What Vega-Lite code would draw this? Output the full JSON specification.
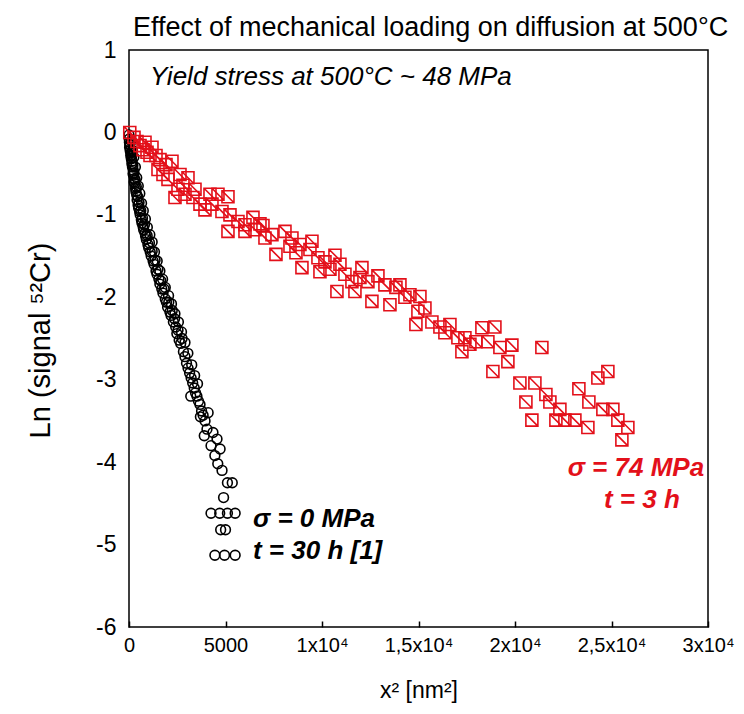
{
  "$schema": "https://vega.github.io/schema/vega-lite/v6.json",
  "width": 579,
  "height": 577,
  "autosize": {"type": "none"},
  "padding": {"left": 129, "top": 50, "right": 36, "bottom": 87},
  "background": "white",
  "config": {
    "view": {"stroke": "black", "strokeWidth": 1.5},
    "axis": {"grid": false, "domain": false}
  },
  "title": {
    "text": "Effect of mechanical loading on diffusion at 500°C",
    "anchor": "start",
    "frame": "group",
    "dx": 4,
    "offset": -3,
    "fontSize": 27,
    "font": "Liberation Sans",
    "fontWeight": "normal",
    "color": "black"
  },
  "datasets": {
    "pts": [
      {"s": "0 MPa", "x2": 0, "ln": -0.03},
      {"s": "0 MPa", "x2": 10, "ln": -0.08},
      {"s": "0 MPa", "x2": 20, "ln": -0.12},
      {"s": "0 MPa", "x2": 30, "ln": -0.18},
      {"s": "0 MPa", "x2": 40, "ln": -0.15},
      {"s": "0 MPa", "x2": 60, "ln": -0.22},
      {"s": "0 MPa", "x2": 80, "ln": -0.2},
      {"s": "0 MPa", "x2": 90, "ln": -0.28},
      {"s": "0 MPa", "x2": 100, "ln": -0.25},
      {"s": "0 MPa", "x2": 120, "ln": -0.32},
      {"s": "0 MPa", "x2": 140, "ln": -0.28},
      {"s": "0 MPa", "x2": 150, "ln": -0.38},
      {"s": "0 MPa", "x2": 160, "ln": -0.35},
      {"s": "0 MPa", "x2": 180, "ln": -0.42},
      {"s": "0 MPa", "x2": 200, "ln": -0.4},
      {"s": "0 MPa", "x2": 210, "ln": -0.5},
      {"s": "0 MPa", "x2": 220, "ln": -0.46},
      {"s": "0 MPa", "x2": 240, "ln": -0.52},
      {"s": "0 MPa", "x2": 260, "ln": -0.49},
      {"s": "0 MPa", "x2": 270, "ln": -0.6},
      {"s": "0 MPa", "x2": 280, "ln": -0.56},
      {"s": "0 MPa", "x2": 300, "ln": -0.62},
      {"s": "0 MPa", "x2": 320, "ln": -0.58},
      {"s": "0 MPa", "x2": 340, "ln": -0.68},
      {"s": "0 MPa", "x2": 360, "ln": -0.72},
      {"s": "0 MPa", "x2": 380, "ln": -0.66},
      {"s": "0 MPa", "x2": 400, "ln": -0.76},
      {"s": "0 MPa", "x2": 420, "ln": -0.82},
      {"s": "0 MPa", "x2": 450, "ln": -0.78},
      {"s": "0 MPa", "x2": 470, "ln": -0.88},
      {"s": "0 MPa", "x2": 500, "ln": -0.92},
      {"s": "0 MPa", "x2": 520, "ln": -0.85},
      {"s": "0 MPa", "x2": 550, "ln": -0.96},
      {"s": "0 MPa", "x2": 580, "ln": -1.0},
      {"s": "0 MPa", "x2": 610, "ln": -0.95},
      {"s": "0 MPa", "x2": 640, "ln": -1.06},
      {"s": "0 MPa", "x2": 670, "ln": -1.1},
      {"s": "0 MPa", "x2": 700, "ln": -1.04},
      {"s": "0 MPa", "x2": 730, "ln": -1.14},
      {"s": "0 MPa", "x2": 760, "ln": -1.18},
      {"s": "0 MPa", "x2": 800, "ln": -1.12},
      {"s": "0 MPa", "x2": 830, "ln": -1.22},
      {"s": "0 MPa", "x2": 860, "ln": -1.26},
      {"s": "0 MPa", "x2": 900, "ln": -1.3},
      {"s": "0 MPa", "x2": 940, "ln": -1.25},
      {"s": "0 MPa", "x2": 980, "ln": -1.36},
      {"s": "0 MPa", "x2": 1020, "ln": -1.4},
      {"s": "0 MPa", "x2": 1060, "ln": -1.34},
      {"s": "0 MPa", "x2": 1100, "ln": -1.45},
      {"s": "0 MPa", "x2": 1150, "ln": -1.5},
      {"s": "0 MPa", "x2": 1200, "ln": -1.44},
      {"s": "0 MPa", "x2": 1250, "ln": -1.56},
      {"s": "0 MPa", "x2": 1300, "ln": -1.6},
      {"s": "0 MPa", "x2": 1350, "ln": -1.55},
      {"s": "0 MPa", "x2": 1400, "ln": -1.68},
      {"s": "0 MPa", "x2": 1450, "ln": -1.72},
      {"s": "0 MPa", "x2": 1500, "ln": -1.66},
      {"s": "0 MPa", "x2": 1550, "ln": -1.78},
      {"s": "0 MPa", "x2": 1600, "ln": -1.84},
      {"s": "0 MPa", "x2": 1650, "ln": -1.8},
      {"s": "0 MPa", "x2": 1700, "ln": -1.9},
      {"s": "0 MPa", "x2": 1760, "ln": -1.95},
      {"s": "0 MPa", "x2": 1820, "ln": -1.9},
      {"s": "0 MPa", "x2": 1880, "ln": -2.02},
      {"s": "0 MPa", "x2": 1940, "ln": -2.06},
      {"s": "0 MPa", "x2": 2000, "ln": -2.12},
      {"s": "0 MPa", "x2": 2060, "ln": -2.06},
      {"s": "0 MPa", "x2": 2120, "ln": -2.18},
      {"s": "0 MPa", "x2": 2180, "ln": -2.22},
      {"s": "0 MPa", "x2": 2240, "ln": -2.16},
      {"s": "0 MPa", "x2": 2300, "ln": -2.3},
      {"s": "0 MPa", "x2": 2360, "ln": -2.26},
      {"s": "0 MPa", "x2": 2420, "ln": -2.36},
      {"s": "0 MPa", "x2": 2480, "ln": -2.44},
      {"s": "0 MPa", "x2": 2540, "ln": -2.4},
      {"s": "0 MPa", "x2": 2600, "ln": -2.52},
      {"s": "0 MPa", "x2": 2680, "ln": -2.56},
      {"s": "0 MPa", "x2": 2750, "ln": -2.5},
      {"s": "0 MPa", "x2": 2820, "ln": -2.66},
      {"s": "0 MPa", "x2": 2900, "ln": -2.72},
      {"s": "0 MPa", "x2": 2980, "ln": -2.8},
      {"s": "0 MPa", "x2": 3060, "ln": -2.86},
      {"s": "0 MPa", "x2": 3140, "ln": -2.92},
      {"s": "0 MPa", "x2": 3220, "ln": -2.98},
      {"s": "0 MPa", "x2": 3300, "ln": -3.04},
      {"s": "0 MPa", "x2": 3380, "ln": -3.1},
      {"s": "0 MPa", "x2": 3450, "ln": -3.16},
      {"s": "0 MPa", "x2": 3520, "ln": -3.2},
      {"s": "0 MPa", "x2": 3600, "ln": -3.26},
      {"s": "0 MPa", "x2": 3680, "ln": -3.3},
      {"s": "0 MPa", "x2": 3760, "ln": -3.38},
      {"s": "0 MPa", "x2": 3840, "ln": -3.43},
      {"s": "0 MPa", "x2": 3940, "ln": -3.5},
      {"s": "0 MPa", "x2": 4040, "ln": -3.6},
      {"s": "0 MPa", "x2": 4350, "ln": -3.64},
      {"s": "0 MPa", "x2": 4560, "ln": -3.72},
      {"s": "0 MPa", "x2": 4250, "ln": -3.8},
      {"s": "0 MPa", "x2": 4720, "ln": -3.84},
      {"s": "0 MPa", "x2": 4450, "ln": -3.92},
      {"s": "0 MPa", "x2": 4600, "ln": -4.02},
      {"s": "0 MPa", "x2": 4820, "ln": -4.1},
      {"s": "0 MPa", "x2": 5100, "ln": -4.25},
      {"s": "0 MPa", "x2": 5350, "ln": -4.25},
      {"s": "0 MPa", "x2": 4900, "ln": -4.43},
      {"s": "0 MPa", "x2": 4250, "ln": -4.62},
      {"s": "0 MPa", "x2": 4700, "ln": -4.62},
      {"s": "0 MPa", "x2": 5100, "ln": -4.62},
      {"s": "0 MPa", "x2": 5500, "ln": -4.62},
      {"s": "0 MPa", "x2": 4750, "ln": -4.82},
      {"s": "0 MPa", "x2": 5000, "ln": -4.82},
      {"s": "0 MPa", "x2": 4450, "ln": -5.13},
      {"s": "0 MPa", "x2": 4950, "ln": -5.13},
      {"s": "0 MPa", "x2": 5500, "ln": -5.13},
      {"s": "0 MPa", "x2": 120, "ln": -0.1},
      {"s": "0 MPa", "x2": 180, "ln": -0.22},
      {"s": "0 MPa", "x2": 250, "ln": -0.3},
      {"s": "0 MPa", "x2": 330, "ln": -0.42},
      {"s": "0 MPa", "x2": 400, "ln": -0.55},
      {"s": "0 MPa", "x2": 480, "ln": -0.65},
      {"s": "0 MPa", "x2": 560, "ln": -0.74},
      {"s": "0 MPa", "x2": 650, "ln": -0.86},
      {"s": "0 MPa", "x2": 740, "ln": -0.95},
      {"s": "0 MPa", "x2": 850, "ln": -1.05},
      {"s": "0 MPa", "x2": 950, "ln": -1.15},
      {"s": "0 MPa", "x2": 1080, "ln": -1.24},
      {"s": "0 MPa", "x2": 1200, "ln": -1.33},
      {"s": "0 MPa", "x2": 1320, "ln": -1.45},
      {"s": "0 MPa", "x2": 1460, "ln": -1.56},
      {"s": "0 MPa", "x2": 1600, "ln": -1.68},
      {"s": "0 MPa", "x2": 1740, "ln": -1.78},
      {"s": "0 MPa", "x2": 1880, "ln": -1.88},
      {"s": "0 MPa", "x2": 2050, "ln": -1.98},
      {"s": "0 MPa", "x2": 2200, "ln": -2.08},
      {"s": "0 MPa", "x2": 2380, "ln": -2.2},
      {"s": "0 MPa", "x2": 2560, "ln": -2.3},
      {"s": "0 MPa", "x2": 2720, "ln": -2.42},
      {"s": "0 MPa", "x2": 2900, "ln": -2.55},
      {"s": "0 MPa", "x2": 3050, "ln": -2.68},
      {"s": "0 MPa", "x2": 3250, "ln": -2.82},
      {"s": "0 MPa", "x2": 3400, "ln": -2.95},
      {"s": "0 MPa", "x2": 3550, "ln": -3.05},
      {"s": "0 MPa", "x2": 3200, "ln": -3.2},
      {"s": "0 MPa", "x2": 3700, "ln": -3.45},
      {"s": "0 MPa", "x2": 4100, "ln": -3.4},
      {"s": "0 MPa", "x2": 3900, "ln": -3.68},
      {"s": "74 MPa", "x2": 40, "ln": 0.0},
      {"s": "74 MPa", "x2": 259, "ln": -0.06},
      {"s": "74 MPa", "x2": 414, "ln": -0.11},
      {"s": "74 MPa", "x2": 570, "ln": -0.16},
      {"s": "74 MPa", "x2": 725, "ln": -0.21},
      {"s": "74 MPa", "x2": 829, "ln": -0.12},
      {"s": "74 MPa", "x2": 933, "ln": -0.24},
      {"s": "74 MPa", "x2": 1088, "ln": -0.28},
      {"s": "74 MPa", "x2": 1191, "ln": -0.18},
      {"s": "74 MPa", "x2": 1399, "ln": -0.28},
      {"s": "74 MPa", "x2": 1606, "ln": -0.33},
      {"s": "74 MPa", "x2": 1502, "ln": -0.45},
      {"s": "74 MPa", "x2": 1761, "ln": -0.51},
      {"s": "74 MPa", "x2": 1917, "ln": -0.39},
      {"s": "74 MPa", "x2": 2020, "ln": -0.57},
      {"s": "74 MPa", "x2": 2227, "ln": -0.35},
      {"s": "74 MPa", "x2": 2642, "ln": -0.51},
      {"s": "74 MPa", "x2": 2797, "ln": -0.64},
      {"s": "74 MPa", "x2": 3056, "ln": -0.55},
      {"s": "74 MPa", "x2": 2538, "ln": -0.69},
      {"s": "74 MPa", "x2": 2901, "ln": -0.75},
      {"s": "74 MPa", "x2": 3315, "ln": -0.79},
      {"s": "74 MPa", "x2": 2383, "ln": -0.79},
      {"s": "74 MPa", "x2": 3419, "ln": -0.69},
      {"s": "74 MPa", "x2": 3678, "ln": -0.87},
      {"s": "74 MPa", "x2": 3937, "ln": -0.94},
      {"s": "74 MPa", "x2": 4196, "ln": -0.75},
      {"s": "74 MPa", "x2": 4299, "ln": -0.87},
      {"s": "74 MPa", "x2": 4610, "ln": -0.75},
      {"s": "74 MPa", "x2": 5128, "ln": -0.78},
      {"s": "74 MPa", "x2": 4817, "ln": -0.96},
      {"s": "74 MPa", "x2": 5232, "ln": -1.0},
      {"s": "74 MPa", "x2": 5128, "ln": -1.2},
      {"s": "74 MPa", "x2": 5646, "ln": -1.08},
      {"s": "74 MPa", "x2": 6009, "ln": -1.12},
      {"s": "74 MPa", "x2": 6009, "ln": -1.2},
      {"s": "74 MPa", "x2": 6423, "ln": -1.03},
      {"s": "74 MPa", "x2": 6527, "ln": -1.18},
      {"s": "74 MPa", "x2": 6786, "ln": -1.11},
      {"s": "74 MPa", "x2": 6941, "ln": -1.13},
      {"s": "74 MPa", "x2": 7045, "ln": -1.28},
      {"s": "74 MPa", "x2": 7407, "ln": -1.24},
      {"s": "74 MPa", "x2": 7615, "ln": -1.48},
      {"s": "74 MPa", "x2": 8081, "ln": -1.2},
      {"s": "74 MPa", "x2": 8340, "ln": -1.38},
      {"s": "74 MPa", "x2": 8443, "ln": -1.28},
      {"s": "74 MPa", "x2": 8651, "ln": -1.46},
      {"s": "74 MPa", "x2": 8858, "ln": -1.36},
      {"s": "74 MPa", "x2": 9376, "ln": -1.42},
      {"s": "74 MPa", "x2": 9479, "ln": -1.32},
      {"s": "74 MPa", "x2": 8961, "ln": -1.64},
      {"s": "74 MPa", "x2": 9790, "ln": -1.52},
      {"s": "74 MPa", "x2": 10153, "ln": -1.57},
      {"s": "74 MPa", "x2": 10412, "ln": -1.66},
      {"s": "74 MPa", "x2": 10671, "ln": -1.49},
      {"s": "74 MPa", "x2": 10930, "ln": -1.6},
      {"s": "74 MPa", "x2": 9894, "ln": -1.69},
      {"s": "74 MPa", "x2": 10774, "ln": -1.93},
      {"s": "74 MPa", "x2": 11189, "ln": -1.72},
      {"s": "74 MPa", "x2": 11551, "ln": -1.81},
      {"s": "74 MPa", "x2": 11707, "ln": -1.93},
      {"s": "74 MPa", "x2": 11966, "ln": -1.76},
      {"s": "74 MPa", "x2": 12069, "ln": -1.64},
      {"s": "74 MPa", "x2": 12380, "ln": -1.81},
      {"s": "74 MPa", "x2": 12898, "ln": -1.74},
      {"s": "74 MPa", "x2": 13261, "ln": -1.85},
      {"s": "74 MPa", "x2": 13831, "ln": -1.88},
      {"s": "74 MPa", "x2": 14038, "ln": -1.85},
      {"s": "74 MPa", "x2": 12587, "ln": -2.05},
      {"s": "74 MPa", "x2": 13520, "ln": -2.09},
      {"s": "74 MPa", "x2": 14297, "ln": -2.0},
      {"s": "74 MPa", "x2": 14556, "ln": -1.97},
      {"s": "74 MPa", "x2": 15074, "ln": -1.99},
      {"s": "74 MPa", "x2": 14970, "ln": -2.17},
      {"s": "74 MPa", "x2": 15333, "ln": -2.13},
      {"s": "74 MPa", "x2": 14867, "ln": -2.33},
      {"s": "74 MPa", "x2": 15695, "ln": -2.3},
      {"s": "74 MPa", "x2": 16110, "ln": -2.36},
      {"s": "74 MPa", "x2": 16369, "ln": -2.43},
      {"s": "74 MPa", "x2": 16628, "ln": -2.33},
      {"s": "74 MPa", "x2": 17042, "ln": -2.49},
      {"s": "74 MPa", "x2": 17405, "ln": -2.49},
      {"s": "74 MPa", "x2": 17249, "ln": -2.66},
      {"s": "74 MPa", "x2": 17664, "ln": -2.57},
      {"s": "74 MPa", "x2": 17975, "ln": -2.54},
      {"s": "74 MPa", "x2": 18285, "ln": -2.37},
      {"s": "74 MPa", "x2": 18596, "ln": -2.54},
      {"s": "74 MPa", "x2": 18959, "ln": -2.36},
      {"s": "74 MPa", "x2": 19218, "ln": -2.61},
      {"s": "74 MPa", "x2": 19839, "ln": -2.58},
      {"s": "74 MPa", "x2": 19632, "ln": -2.78},
      {"s": "74 MPa", "x2": 18855, "ln": -2.9},
      {"s": "74 MPa", "x2": 21393, "ln": -2.61},
      {"s": "74 MPa", "x2": 20254, "ln": -3.04},
      {"s": "74 MPa", "x2": 21031, "ln": -3.04},
      {"s": "74 MPa", "x2": 20565, "ln": -3.27},
      {"s": "74 MPa", "x2": 21601, "ln": -3.18},
      {"s": "74 MPa", "x2": 21808, "ln": -3.27},
      {"s": "74 MPa", "x2": 22326, "ln": -3.36},
      {"s": "74 MPa", "x2": 20875, "ln": -3.49},
      {"s": "74 MPa", "x2": 22119, "ln": -3.49},
      {"s": "74 MPa", "x2": 22585, "ln": -3.49},
      {"s": "74 MPa", "x2": 23103, "ln": -3.49},
      {"s": "74 MPa", "x2": 23776, "ln": -3.58},
      {"s": "74 MPa", "x2": 23310, "ln": -3.11},
      {"s": "74 MPa", "x2": 23828, "ln": -3.27},
      {"s": "74 MPa", "x2": 24294, "ln": -2.98},
      {"s": "74 MPa", "x2": 24812, "ln": -2.9},
      {"s": "74 MPa", "x2": 24553, "ln": -3.36},
      {"s": "74 MPa", "x2": 25071, "ln": -3.36},
      {"s": "74 MPa", "x2": 25330, "ln": -3.49},
      {"s": "74 MPa", "x2": 25848, "ln": -3.58},
      {"s": "74 MPa", "x2": 25538, "ln": -3.73}
    ],
    "notes": [
      {"label": "Yield stress at 500°C  ~ 48 MPa", "x2": 1088, "ln": 0.67, "kind": "yield"},
      {"label": "σ = 0 MPa", "x2": 6423, "ln": -4.69, "kind": "black"},
      {"label": "t = 30 h [1]", "x2": 6423, "ln": -5.08, "kind": "black"},
      {"label": "σ = 74 MPa", "x2": 26263, "ln": -4.07, "kind": "red"},
      {"label": "t = 3 h", "x2": 26574, "ln": -4.46, "kind": "red"}
    ]
  },
  "layer": [
    {
      "data": {"name": "pts"},
      "mark": {"type": "point", "filled": false, "strokeWidth": 1.6, "opacity": 1},
      "encoding": {
        "x": {
          "field": "x2", "type": "quantitative",
          "scale": {"domain": [0, 30000], "nice": false, "zero": false},
          "axis": {
            "values": [0, 5000, 10000, 15000, 20000, 25000, 30000],
            "labelExpr": "datum.value == 0 ? '0' : datum.value == 5000 ? '5000' : datum.value == 10000 ? '1x10⁴' : datum.value == 15000 ? '1,5x10⁴' : datum.value == 20000 ? '2x10⁴' : datum.value == 25000 ? '2,5x10⁴' : '3x10⁴'",
            "labelFont": "Liberation Sans",
            "labelFontSize": 20,
            "labelColor": "black",
            "labelPadding": 14,
            "labelFlush": false,
            "tickSize": -6,
            "tickColor": "black",
            "tickWidth": 1.5,
            "title": "x² [nm²]",
            "titleFont": "Liberation Sans",
            "titleFontSize": 23,
            "titleFontWeight": "normal",
            "titleColor": "black",
            "titleY": 63,
            "titleBaseline": "middle"
          }
        },
        "y": {
          "field": "ln", "type": "quantitative",
          "scale": {"domain": [-6, 1], "nice": false, "zero": false},
          "axis": {
            "values": [-6, -5, -4, -3, -2, -1, 0, 1],
            "labelExpr": "'' + datum.value",
            "labelFont": "Liberation Sans",
            "labelFontSize": 23,
            "labelColor": "black",
            "labelPadding": 13,
            "ticks": false,
            "labelFlush": false,
            "title": "Ln (signal ⁵²Cr)",
            "titleFont": "Liberation Sans",
            "titleFontSize": 29,
            "titleFontWeight": "normal",
            "titleColor": "black",
            "titleX": -89,
            "titleY": 290,
            "titleBaseline": "middle",
            "titleAngle": -90
          }
        },
        "shape": {
          "field": "s", "type": "nominal",
          "scale": {"domain": ["0 MPa", "74 MPa"], "range": ["circle", "M-1,-1H1V1H-1Z M-1,-1L1,1 M1,1H0.2"]},
          "legend": null
        },
        "color": {
          "field": "s", "type": "nominal",
          "scale": {"domain": ["0 MPa", "74 MPa"], "range": ["black", "#e3101a"]},
          "legend": null
        },
        "size": {
          "field": "s", "type": "nominal",
          "scale": {"domain": ["0 MPa", "74 MPa"], "range": [95, 144]},
          "legend": null
        }
      }
    },
    {
      "data": {"name": "notes"},
      "transform": [{"filter": "datum.kind == 'yield'"}],
      "mark": {"type": "text", "align": "left", "baseline": "middle", "font": "Liberation Sans", "fontStyle": "italic", "fontSize": 26, "color": "black"},
      "encoding": {
        "x": {"field": "x2", "type": "quantitative"},
        "y": {"field": "ln", "type": "quantitative"},
        "text": {"field": "label"}
      }
    },
    {
      "data": {"name": "notes"},
      "transform": [{"filter": "datum.kind == 'black'"}],
      "mark": {"type": "text", "align": "left", "baseline": "middle", "font": "Liberation Sans", "fontStyle": "italic", "fontWeight": "bold", "fontSize": 26, "color": "black"},
      "encoding": {
        "x": {"field": "x2", "type": "quantitative"},
        "y": {"field": "ln", "type": "quantitative"},
        "text": {"field": "label"}
      }
    },
    {
      "data": {"name": "notes"},
      "transform": [{"filter": "datum.kind == 'red'"}],
      "mark": {"type": "text", "align": "center", "baseline": "middle", "font": "Liberation Sans", "fontStyle": "italic", "fontWeight": "bold", "fontSize": 26, "color": "#e3101a"},
      "encoding": {
        "x": {"field": "x2", "type": "quantitative"},
        "y": {"field": "ln", "type": "quantitative"},
        "text": {"field": "label"}
      }
    }
  ]
}
